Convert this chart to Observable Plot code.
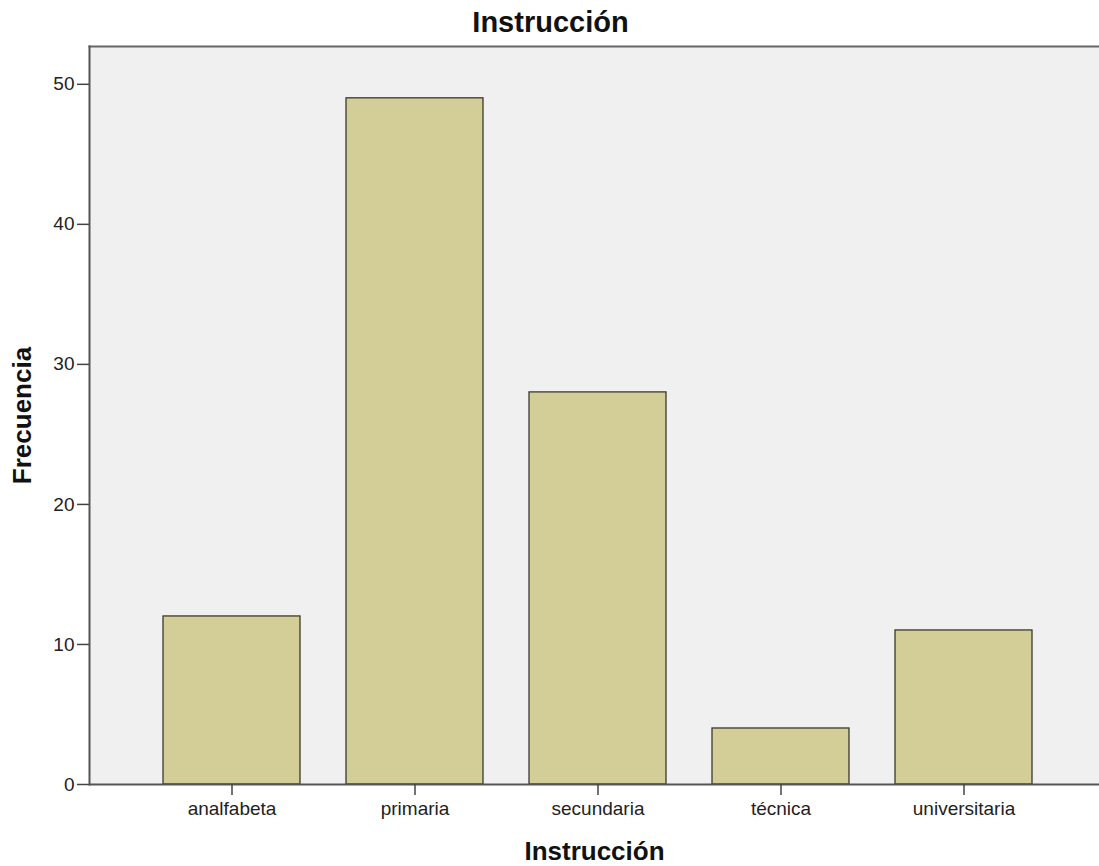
<!DOCTYPE html>
<html>
<head>
<meta charset="utf-8">
<script src="https://cdn.jsdelivr.net/npm/d3@7"></script>
<script src="https://cdn.jsdelivr.net/npm/@observablehq/plot@0.6"></script>
<style>
  html, body { margin: 0; padding: 0; background: #fff; overflow: hidden; }
  svg { display: block; }
</style>
</head>
<body>
<div id="chart"></div>
<script>
const categories = ["analfabeta", "primaria", "secundaria", "técnica", "universitaria"];
const frequencies = [12, 49, 28, 4, 11];
const yTicks = [0, 10, 20, 30, 40, 50];
const titleText = "Instrucción";
const xLabel = "Instrucción";
const yLabel = "Frecuencia";

const data = categories.map((c, i) => ({category: c, value: frequencies[i]}));

const fontFam = "Liberation Sans, Arial, sans-serif";

const chart = Plot.plot({
  width: 1099,
  height: 866,
  marginLeft: 89,
  marginRight: 0,
  marginTop: 46,
  marginBottom: 82,
  style: {fontFamily: fontFam, fontSize: "19px", color: "#222", background: "#fff"},
  x: {domain: categories, range: [89, 1106], paddingInner: 0.25, paddingOuter: 0.401, align: 0.5, label: null},
  y: {domain: [0, 52.7], label: null},
  marks: [
    Plot.frame({fill: "#f0f0f0", stroke: "none"}),
    Plot.barY(data, {x: "category", y: "value", fill: "#d3ce97", stroke: "#3a3a2c", strokeWidth: 1.3}),
    Plot.ruleY([0], {stroke: "#555", strokeWidth: 2}),
    Plot.frame({anchor: "top", stroke: "#666", strokeWidth: 2}),
    Plot.frame({anchor: "left", stroke: "#555", strokeWidth: 2}),
    Plot.axisY({ticks: yTicks, tickSize: 12, tickPadding: 3, tickFormat: d => d, fontSize: 19, fill: "#222", stroke: "#444", strokeWidth: 1.5, label: null}),
    Plot.axisX({tickSize: 11, tickPadding: 6, fontSize: 19, fill: "#222", stroke: "#444", strokeWidth: 1.5, label: null}),
    Plot.text([titleText], {frameAnchor: "top", lineAnchor: "middle", dx: -44, dy: -24, text: d => d, fontSize: 29, fontWeight: "bold", fill: "#111"}),
    Plot.text([xLabel], {frameAnchor: "bottom", lineAnchor: "middle", dy: 67, text: d => d, fontSize: 26, fontWeight: "bold", fill: "#111"}),
    Plot.text([yLabel], {frameAnchor: "left", lineAnchor: "middle", textAnchor: "middle", dx: -67, rotate: -90, text: d => d, fontSize: 26, fontWeight: "bold", fill: "#111"})
  ]
});
document.getElementById("chart").append(chart);
</script>
</body>
</html>
